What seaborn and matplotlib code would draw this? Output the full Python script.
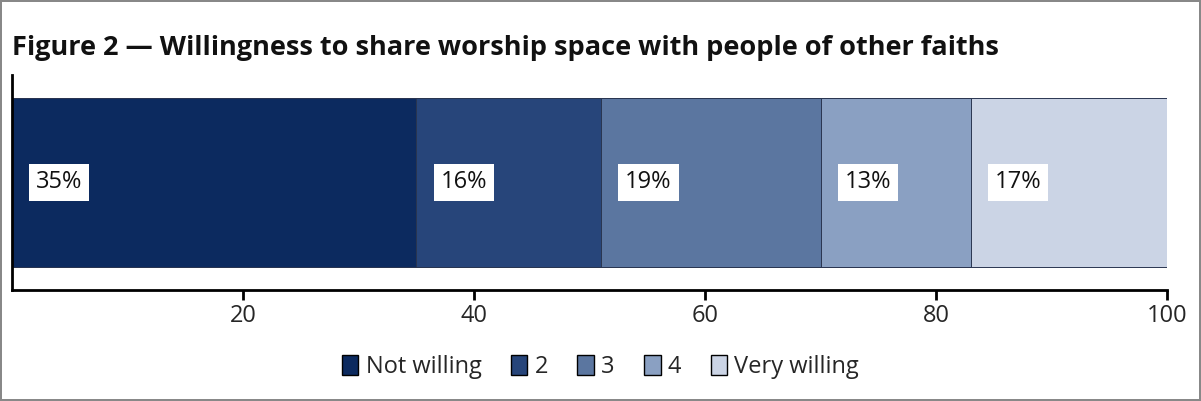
import matplotlib
matplotlib.use("Agg")
import matplotlib.pyplot as plt
import seaborn as sns
import numpy as np
import pandas as pd
from matplotlib.patches import Patch

categories = ["Not willing", "2", "3", "4", "Very willing"]
values = [35, 16, 19, 13, 17]
labels = ["35%", "16%", "19%", "13%", "17%"]
colors = ["#0C2A5F", "#27457A", "#5B76A0", "#8AA0C2", "#CBD4E5"]
ticks = [20, 40, 60, 80, 100]

sns.set_theme(style="white")
plt.rcParams["font.family"] = ["Open Sans", "DejaVu Sans"]

fig = plt.figure(figsize=(12.01, 4.01), dpi=100)
fig.patch.set_facecolor("white")
fig.patch.set_edgecolor("#888888")
fig.patch.set_linewidth(1.5)

ax = fig.add_axes([12/1201, 1-290/401, 1155/1201, 215/401])

cum = np.cumsum(values)
starts = cum - np.array(values)
# draw from largest cumulative to smallest so segments stack
for i in reversed(range(len(values))):
    df = pd.DataFrame({"val": [cum[i]], "row": ["r"]})
    sns.barplot(data=df, x="val", y="row", orient="h", color=colors[i],
                saturation=1, width=0.79, edgecolor="#2a3550", linewidth=0.7, ax=ax)

for s, lab in zip(starts, labels):
    ax.text(s + 2.1, 0, lab, ha="left", va="center", fontsize=17, color="#111111",
            bbox=dict(facecolor="white", edgecolor="none", pad=5))

ax.set_xlim(0, 100)
ax.set_ylim(0.5, -0.5)
ax.set_xticks(ticks)
ax.set_xticklabels([str(t) for t in ticks], fontsize=17)
ax.set_yticks([])
ax.set_xlabel("")
ax.set_ylabel("")
for side in ["top", "right"]:
    ax.spines[side].set_visible(False)
for side in ["left", "bottom"]:
    ax.spines[side].set_color("black")
    ax.spines[side].set_linewidth(2)
ax.tick_params(axis="x", which="both", bottom=True, length=7, width=2, color="black", pad=3)

fig.text(12/1201, 1-48/401, "Figure 2 \u2014 Willingness to share worship space with people of other faiths",
         ha="left", va="center", fontsize=19.5, fontweight="bold", color="#111111")

handles = [Patch(facecolor=c, edgecolor="black", linewidth=1) for c in colors]
fig.legend(handles, categories, loc="center", bbox_to_anchor=(0.5, 1-367/401), ncol=5,
           frameon=False, fontsize=17, handlelength=0.7, handleheight=0.9,
           handletextpad=0.3, columnspacing=1.25)

fig.savefig("out.png", dpi=100, facecolor=fig.get_facecolor(), edgecolor=fig.get_edgecolor())
